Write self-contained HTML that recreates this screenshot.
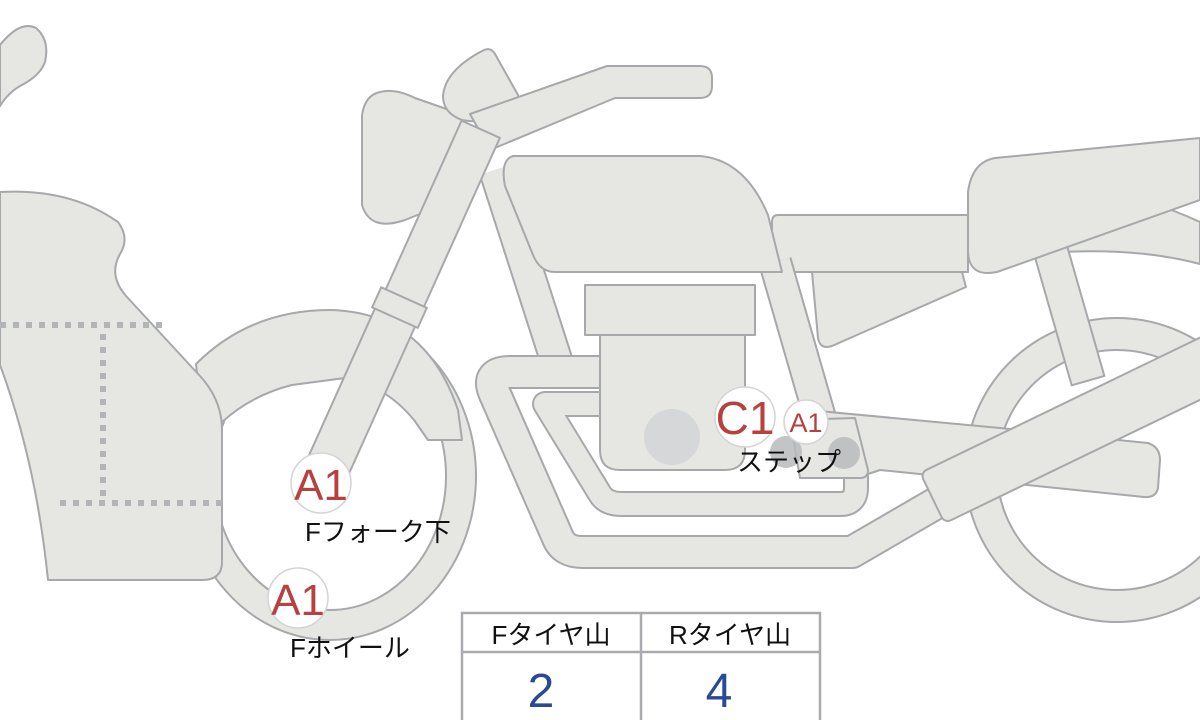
<!DOCTYPE html>
<html><head><meta charset="utf-8"><style>
html,body{margin:0;padding:0;background:#fff;}
svg{display:block;}
text{font-family:"Liberation Sans","Noto Sans CJK JP",sans-serif;}
</style></head><body>
<svg width="1200" height="720" viewBox="0 0 1200 720" xmlns="http://www.w3.org/2000/svg">
<g fill="#e6e7e3" stroke="#a6a8aa" stroke-width="2" stroke-linejoin="round">
 <circle cx="1117" cy="470" r="136" fill="none" stroke="#a6a8aa" stroke-width="34"/>
 <circle cx="1117" cy="470" r="136" fill="none" stroke="#e6e7e3" stroke-width="30"/>
 <path d="M1060,250 L1135,198 Q1170,208 1200,222 L1200,264 Q1140,248 1060,252 Z"/>
 <g transform="translate(1050,248) rotate(-16)"><rect x="-17" y="0" width="34" height="138"/></g>
 <path d="M995,158 L1200,138 L1200,200 L997,272 Q968,278 968,250 L968,192 Q972,162 995,158 Z"/>
 <path d="M778,215 L968,215 L968,272 L778,272 Q772,272 772,265 L772,222 Q772,215 778,215 Z"/>
 <path d="M812,272 L962,272 L966,287 L832,346 Q820,350 818,338 Z"/>

 <ellipse cx="330" cy="476" rx="131" ry="149" fill="none" stroke="#a6a8aa" stroke-width="32"/>
 <ellipse cx="330" cy="476" rx="131" ry="149" fill="none" stroke="#e6e7e3" stroke-width="28"/>
 <path d="M196,364 Q250,310 330,310 Q425,312 458,410 L462,440 L428,440 L414,420 Q385,385 345,378 L292,385 Q252,395 222,422 L200,402 Z"/>
 <path d="M0,192 Q70,188 118,222 Q130,238 120,254 Q108,275 126,296 L200,376 Q222,400 222,430 L222,562 Q222,580 202,580 L48,580 Q36,462 0,365 Z"/>
 <path d="M0,45 Q20,20 36,28 Q50,40 45,62 Q40,76 20,86 Q8,93 0,106 Z"/>

 <line x1="495" y1="170" x2="560" y2="372" stroke="#a6a8aa" stroke-width="34"/>
 <line x1="495" y1="170" x2="560" y2="372" stroke="#e6e7e3" stroke-width="30"/>
 <line x1="775" y1="262" x2="822" y2="425" stroke="#a6a8aa" stroke-width="34"/>
 <line x1="775" y1="262" x2="822" y2="425" stroke="#e6e7e3" stroke-width="30"/>
 <path d="M605,372 L510,372 Q486,372 494,392 L558,538 Q564,552 582,552 L852,552 L945,498" fill="none" stroke="#a6a8aa" stroke-width="34"/>
 <path d="M605,372 L510,372 Q486,372 494,392 L558,538 Q564,552 582,552 L852,552 L945,498" fill="none" stroke="#e6e7e3" stroke-width="30"/>
 <path d="M605,404 L545,404 L600,494 Q606,504 622,504 L840,504 Q856,504 856,488 L856,470" fill="none" stroke="#a6a8aa" stroke-width="26"/>
 <path d="M605,404 L545,404 L600,494 Q606,504 622,504 L840,504 Q856,504 856,488 L856,470" fill="none" stroke="#e6e7e3" stroke-width="22"/>
 <rect x="585" y="285" width="170" height="50"/>
 <path d="M600,335 L745,335 L745,450 Q745,470 725,470 L620,470 Q600,470 600,450 Z"/>
 <circle cx="672" cy="437" r="28" fill="#d6d7d9" stroke="none"/>

 <path d="M513,156 L700,156 Q745,160 768,215 L782,272 L555,272 Q540,272 533,255 L505,186 Q500,160 513,156 Z"/>
 <path d="M380,92 Q395,88 415,98 L455,112 Q478,130 478,158 Q478,185 455,200 L405,220 Q370,232 362,205 L362,115 Q365,95 380,92 Z"/>
 <path d="M484,50 Q491,47 495,54 L518,95 Q522,112 505,118 Q482,124 462,120 Q443,113 443,96 Q445,70 484,50 Z"/>
 <path d="M470,114 L607,66 L700,66 Q712,66 712,78 L712,86 Q712,98 700,98 L615,98 L490,150 Z"/>
 <g transform="translate(322,480) rotate(24.2)">
  <rect x="-20" y="-385" width="42" height="200"/>
  <rect x="-22" y="-190" width="44" height="190" rx="4"/>
  <rect x="-25" y="-200" width="50" height="22"/>
 </g>

 <path d="M808,410 L1000,428 L1148,443 Q1160,447 1160,460 L1158,488 Q1156,498 1144,497 L880,470 L862,476 Z"/>
 <path d="M790,420 L855,418 L868,470 Q868,478 860,478 L800,478 Z"/>
 <g transform="translate(945,492) rotate(-25.8)"><rect x="-14" y="-28" width="320" height="56" rx="7"/></g>
</g>

<g stroke="#b2b4b6" stroke-width="6" stroke-dasharray="6 7" fill="none">
 <line x1="0" y1="325" x2="165" y2="325"/>
 <line x1="103" y1="334" x2="103" y2="500"/>
 <line x1="60" y1="503" x2="222" y2="503"/>
</g>

<circle cx="786" cy="452" r="16" fill="#b9babc" opacity="0.85"/>
<circle cx="844" cy="453" r="16" fill="#b9babc" opacity="0.85"/>

<g fill="#fff" stroke="#d4d4d4" stroke-width="1.5">
 <circle cx="321" cy="483" r="30"/>
 <circle cx="298" cy="598" r="30"/>
 <circle cx="745" cy="417" r="30"/>
 <circle cx="806" cy="422" r="22"/>
</g>
<g fill="#b7413f" text-anchor="middle">
 <text x="321" y="500" font-size="44">A1</text>
 <text x="298" y="615" font-size="44">A1</text>
 <text x="745" y="434" font-size="46">C1</text>
 <text x="806" y="432" font-size="27">A1</text>
</g>
<g fill="#111" font-size="26">
 <text x="305" y="541">Fフォーク下</text>
 <text x="290" y="657">Fホイール</text>
 <text x="737" y="471">ステップ</text>
</g>

<g fill="#fff" stroke="#a9abb0" stroke-width="2.5">
 <rect x="462" y="613" width="358" height="120"/>
 <line x1="462" y1="652" x2="820" y2="652"/>
 <line x1="641" y1="613" x2="641" y2="720"/>
</g>
<g text-anchor="middle">
 <text x="551" y="644" font-size="26" fill="#111">Fタイヤ山</text>
 <text x="730" y="644" font-size="26" fill="#111">Rタイヤ山</text>
 <text x="541" y="707" font-size="48" fill="#2b4a96" font-weight="300">2</text>
 <text x="719" y="707" font-size="48" fill="#2b4a96" font-weight="300">4</text>
</g>
</svg>
</body></html>
